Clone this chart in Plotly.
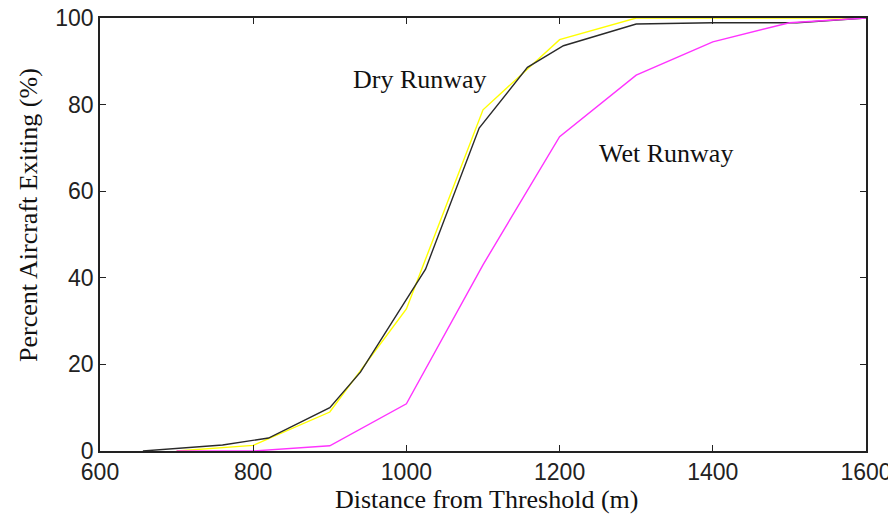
import plotly.graph_objects as go

# Dry runway (black curve)
dry_black_x = [656, 760, 820, 900, 940, 1025, 1095, 1158, 1205, 1300, 1400, 1510, 1600]
dry_black_y = [0, 1.4, 3.0, 10.0, 18.2, 42.0, 74.6, 88.6, 93.6, 98.6, 98.9, 98.9, 100]

# Dry runway (yellow curve)
dry_yellow_x = [700, 800, 900, 1000, 1100, 1200, 1300, 1400, 1500, 1600]
dry_yellow_y = [0, 1.3, 9.0, 32.8, 78.8, 95.0, 100, 100, 100, 100]

# Wet runway (magenta curve)
wet_x = [700, 800, 900, 1000, 1100, 1200, 1300, 1400, 1500, 1600]
wet_y = [0, 0, 1.2, 10.9, 43.0, 72.6, 86.8, 94.5, 98.9, 100]

x_ticks = [600, 800, 1000, 1200, 1400, 1600]
y_ticks = [0, 20, 40, 60, 80, 100]

fig = go.Figure()
fig.add_trace(go.Scatter(x=dry_yellow_x, y=dry_yellow_y, mode="lines",
                         line=dict(color="#ffff00", width=1.4), showlegend=False))
fig.add_trace(go.Scatter(x=dry_black_x, y=dry_black_y, mode="lines",
                         line=dict(color="#2a2a2a", width=1.4), showlegend=False))
fig.add_trace(go.Scatter(x=wet_x, y=wet_y, mode="lines",
                         line=dict(color="#ff33ff", width=1.4), showlegend=False))

serif = dict(family="Liberation Serif", size=26, color="#111111")
fig.add_annotation(x=1018, y=85.7, text="Dry Runway", showarrow=False, font=serif)
fig.add_annotation(x=1339, y=68.8, text="Wet Runway", showarrow=False, font=serif)

# axis titles placed as annotations for exact positioning
fig.add_annotation(xref="paper", yref="paper", x=0.505, y=-0.113,
                   xanchor="center", yanchor="middle",
                   text="Distance from Threshold (m)", showarrow=False, font=serif)
fig.add_annotation(xref="paper", yref="paper", x=-0.094, y=0.545, textangle=-90,
                   xanchor="center", yanchor="middle",
                   text="Percent Aircraft Exiting (%)", showarrow=False, font=serif)

axis_common = dict(showgrid=False, zeroline=False, showline=True, linecolor="#222222",
                   linewidth=1.6, mirror="allticks", ticks="inside", ticklen=6,
                   tickcolor="#222222", tickwidth=1, automargin=False,
                   ticklabeloverflow="allow",
                   tickfont=dict(family="Liberation Sans", size=23, color="#222222"))

fig.update_xaxes(range=[600, 1600], tickvals=x_ticks, **axis_common)
fig.update_yaxes(range=[0, 100], tickvals=y_ticks, **axis_common)

fig.update_layout(width=888, height=506, plot_bgcolor="white", paper_bgcolor="white",
                  margin=dict(l=92, r=30, t=10, b=63))

fig.write_html("out.html")
